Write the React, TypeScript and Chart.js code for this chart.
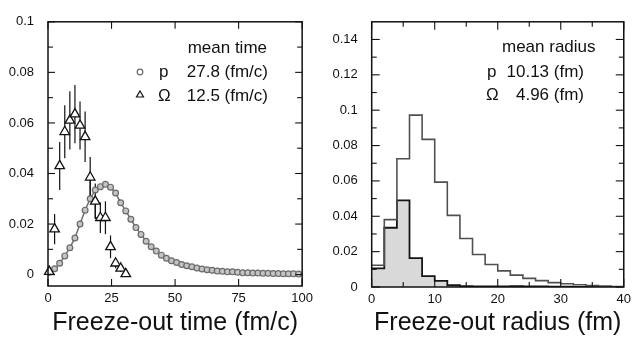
import React, { useEffect, useRef } from 'react';
import { Chart, registerables } from 'chart.js';

Chart.register(...registerables);

// ---------- Left panel: freeze-out time ----------
const protonTimeX = [
  0.6, 2.6, 4.6, 6.6, 8.6, 10.6, 12.6, 14.6, 16.6, 18.6,
  20.6, 22.6, 24.6, 26.6, 28.6, 30.6, 32.6, 34.6, 36.6, 38.6,
  40.6, 42.6, 44.6, 46.6, 48.6, 50.6, 52.6, 54.6, 56.6, 58.6,
  60.6, 62.6, 64.6, 66.6, 68.6, 70.6, 72.6, 74.6, 76.6, 78.6,
  80.6, 82.6, 84.6, 86.6, 88.6, 90.6, 92.6, 94.6, 96.6, 98.6,
];
const protonTime = [
  0.0010, 0.0023, 0.0045, 0.0074, 0.0106, 0.0145, 0.0200, 0.0255, 0.0300, 0.0335,
  0.0348, 0.0357, 0.0346, 0.0323, 0.0284, 0.0252, 0.0219, 0.0186, 0.0159, 0.0132,
  0.0110, 0.0093, 0.0077, 0.0065, 0.0055, 0.0048, 0.0040, 0.0035, 0.0031, 0.0026,
  0.0022, 0.0019, 0.0017, 0.0014, 0.0013, 0.0011, 0.0011, 0.0009, 0.0007, 0.0007,
  0.0006, 0.0006, 0.0005, 0.0005, 0.0004, 0.0004, 0.0003, 0.0003, 0.0003, 0.0002,
];
const omegaTimeX = [0.5, 2.6, 4.6, 6.6, 8.6, 10.6, 12.6, 14.6, 16.6, 18.6, 20.6, 22.6, 24.6, 26.6, 28.6, 30.6];
const omegaTime = [0.0012, 0.018, 0.043, 0.0565, 0.061, 0.0635, 0.059, 0.0545, 0.0385, 0.029, 0.0225, 0.0225, 0.011, 0.0045, 0.0025, 0.0003];
const omegaTimeErr = [0.0015, 0.006, 0.0095, 0.0105, 0.0115, 0.0115, 0.0095, 0.01, 0.008, 0.007, 0.006, 0.0065, 0.0045, 0.002, 0.0015, 0.0008];
const omegaTimeXErr = [1.3, 0, 0, 0, 0, 0, 0, 0, 0, 0, 0, 0, 0, 0, 0, 0];

const leftXTicks = [0, 25, 50, 75, 100];
const leftYTicks = [0, 0.02, 0.04, 0.06, 0.08, 0.1];
const leftYMinor = [0.01, 0.03, 0.05, 0.07, 0.09];

// ---------- Right panel: freeze-out radius ----------
const radiusEdges = [0, 2, 4, 6, 8, 10, 12, 14, 16, 18, 20, 22, 24, 26, 28, 30, 32, 34, 36, 38, 40];
const protonRadius = [
  0.0123, 0.0381, 0.0725, 0.0972, 0.0835, 0.0593, 0.0405, 0.0274, 0.0184, 0.0127,
  0.0091, 0.0067, 0.0049, 0.0036, 0.0025, 0.0018, 0.0013, 0.0008, 0.0005, 0.0003,
];
const omegaRadius = [
  0.0105, 0.0335, 0.049, 0.0163, 0.0062, 0.0035, 0.001, 0.0005, 0.0003, 0.0003,
  0.0004, 0.0005, 0.0004, 0.0003, 0.0002, 0.0002, 0.0001, 0.0001, 0.0, 0.0,
];

const rightXTicks = [0, 10, 20, 30, 40];
const rightXMinor = [5, 15, 25, 35];
const rightYTicks = [0, 0.02, 0.04, 0.06, 0.08, 0.1, 0.12, 0.14];
const rightYMinor = [0.01, 0.03, 0.05, 0.07, 0.09, 0.11, 0.13];

const FONT = "'Liberation Sans', Arial, Helvetica, sans-serif";
const INK = '#111';

const fmt = (v: number) => String(Number(Number(v).toFixed(3)));

function framePlugin(opts: {
  xMajor: number[]; xMinor: number[]; yMajor: number[]; yMinor: number[];
  xMajorLen: number; xMinorLen: number; yMajorLen: number; yMinorLen: number;
}) {
  return {
    id: 'frame',
    afterDatasetsDraw(chart: any) {
      const { ctx, chartArea: a } = chart;
      const xs = chart.scales.x;
      const ys = chart.scales.y;
      ctx.save();
      ctx.strokeStyle = INK;
      ctx.lineWidth = 1.1;
      const seg = (x1: number, y1: number, x2: number, y2: number) => {
        ctx.beginPath();
        ctx.moveTo(x1, y1);
        ctx.lineTo(x2, y2);
        ctx.stroke();
      };
      const yTick = (v: number, len: number) => {
        const p = ys.getPixelForValue(v);
        seg(a.left, p, a.left + len, p);
        seg(a.right, p, a.right - len, p);
      };
      const xTick = (v: number, len: number) => {
        const p = xs.getPixelForValue(v);
        seg(p, a.bottom, p, a.bottom - len);
        seg(p, a.top, p, a.top + len);
      };
      opts.yMajor.forEach((v) => yTick(v, opts.yMajorLen));
      opts.yMinor.forEach((v) => yTick(v, opts.yMinorLen));
      opts.xMajor.forEach((v) => xTick(v, opts.xMajorLen));
      opts.xMinor.forEach((v) => xTick(v, opts.xMinorLen));
      ctx.lineWidth = 1.5;
      ctx.strokeRect(a.left, a.top, a.right - a.left, a.bottom - a.top);
      ctx.restore();
    },
  };
}

const errorBarPlugin = {
  id: 'errbars',
  beforeDatasetsDraw(chart: any) {
    const { ctx } = chart;
    const xs = chart.scales.x;
    const ys = chart.scales.y;
    ctx.save();
    ctx.strokeStyle = INK;
    ctx.lineWidth = 1.2;
    omegaTime.forEach((v, i) => {
      const px = xs.getPixelForValue(omegaTimeX[i]);
      const e = omegaTimeErr[i];
      ctx.beginPath();
      ctx.moveTo(px, ys.getPixelForValue(v - e));
      ctx.lineTo(px, ys.getPixelForValue(v + e));
      ctx.stroke();
      const xe = omegaTimeXErr[i];
      if (xe > 0) {
        const py = ys.getPixelForValue(v);
        ctx.beginPath();
        ctx.moveTo(xs.getPixelForValue(omegaTimeX[i] - xe), py);
        ctx.lineTo(xs.getPixelForValue(omegaTimeX[i] + xe), py);
        ctx.stroke();
      }
    });
    ctx.restore();
  },
};

const leftLegendPlugin = {
  id: 'leftLegend',
  afterDraw(chart: any) {
    const { ctx } = chart;
    ctx.save();
    ctx.fillStyle = INK;
    ctx.font = `17px ${FONT}`;
    ctx.textBaseline = 'alphabetic';
    ctx.textAlign = 'right';
    ctx.fillText('mean time', 267, 53);
    ctx.fillText('27.8 (fm/c)', 268, 77);
    ctx.fillText('12.5 (fm/c)', 268, 101);
    ctx.textAlign = 'left';
    ctx.fillText('p', 159, 77);
    ctx.fillText('\u03A9', 158, 101);
    // symbols
    ctx.strokeStyle = '#666';
    ctx.lineWidth = 1.2;
    ctx.beginPath();
    ctx.arc(140, 72, 2.8, 0, Math.PI * 2);
    ctx.stroke();
    ctx.strokeStyle = INK;
    ctx.beginPath();
    ctx.moveTo(140, 91);
    ctx.lineTo(143.5, 97);
    ctx.lineTo(136.5, 97);
    ctx.closePath();
    ctx.stroke();
    ctx.restore();
  },
};

const rightLegendPlugin = {
  id: 'rightLegend',
  afterDraw(chart: any) {
    const { ctx } = chart;
    const o = 318;
    ctx.save();
    ctx.fillStyle = INK;
    ctx.font = `17px ${FONT}`;
    ctx.textBaseline = 'alphabetic';
    ctx.textAlign = 'left';
    ctx.fillText('mean radius', 502 - o, 52);
    ctx.fillText('p', 487 - o, 77);
    ctx.fillText('\u03A9', 486 - o, 100);
    ctx.textAlign = 'right';
    ctx.fillText('10.13 (fm)', 584 - o, 77);
    ctx.fillText('4.96 (fm)', 584 - o, 100);
    ctx.restore();
  },
};

const histPoints = (edges: number[], vals: number[]) =>
  vals.flatMap((v, i) => [
    { x: edges[i], y: v },
    { x: edges[i + 1], y: v },
  ]);

function axisCommon(extra: any) {
  return {
    type: 'linear',
    grid: { display: false, drawTicks: false },
    border: { display: false },
    ...extra,
  };
}

function leftConfig(): any {
  const omegaPts = omegaTimeX.map((x, i) => ({ x, y: omegaTime[i] }));
  const stepPts: { x: number; y: number }[] = [];
  for (let i = 8; i < 10; i++) {
    stepPts.push({ x: omegaTimeX[i], y: omegaTime[i] });
    stepPts.push({ x: omegaTimeX[i], y: omegaTime[i + 1] });
  }
  stepPts.push({ x: omegaTimeX[10], y: omegaTime[10] });
  return {
    type: 'scatter',
    data: {
      datasets: [
        {
          label: 'Omega',
          data: omegaPts,
          showLine: false,
          pointStyle: 'triangle',
          pointRadius: 5.5,
          pointBorderColor: INK,
          pointBackgroundColor: '#fff',
          pointBorderWidth: 1.3,
          clip: false,
        },
        {
          label: 'p',
          data: protonTimeX.map((x, i) => ({ x, y: protonTime[i] })),
          showLine: true,
          borderColor: '#6f6f6f',
          borderWidth: 1.5,
          pointStyle: 'circle',
          pointRadius: 2.9,
          pointBorderColor: '#6a6a6a',
          pointBackgroundColor: '#c4c4c4',
          pointBorderWidth: 1.2,
          clip: false,
        },
        {
          label: 'step',
          data: stepPts,
          showLine: true,
          borderColor: INK,
          borderWidth: 1.2,
          pointRadius: 0,
        },
      ],
    },
    options: {
      responsive: false,
      animation: false,
      devicePixelRatio: 1,
      layout: { padding: { left: 0, top: 15, right: 15, bottom: 0 } },
      plugins: { legend: { display: false }, tooltip: { enabled: false } },
      events: [],
      scales: {
        x: axisCommon({
          min: 0,
          max: 100,
          afterBuildTicks: (s: any) => { s.ticks = leftXTicks.map((v) => ({ value: v })); },
          afterFit: (s: any) => { s.height = 51; },
          ticks: { color: INK, font: { size: 13, family: FONT }, padding: 5, maxRotation: 0, autoSkip: false, callback: (v: any) => fmt(v) },
          title: { display: true, text: 'Freeze-out time (fm/c)', color: INK, font: { size: 25, family: FONT, lineHeight: 1 }, padding: { top: 0, bottom: 1 } },
        }),
        y: axisCommon({
          min: -0.0045,
          max: 0.1,
          afterBuildTicks: (s: any) => { s.ticks = leftYTicks.map((v) => ({ value: v })); },
          afterFit: (s: any) => { s.width = 48; },
          ticks: { color: INK, font: { size: 13, family: FONT }, padding: 14, autoSkip: false, callback: (v: any) => fmt(v) },
        }),
      },
    },
    plugins: [
      errorBarPlugin,
      framePlugin({ xMajor: leftXTicks, xMinor: [], yMajor: leftYTicks, yMinor: leftYMinor, xMajorLen: 7, xMinorLen: 4, yMajorLen: 7, yMinorLen: 5 }),
      leftLegendPlugin,
    ],
  };
}

function rightConfig(): any {
  return {
    type: 'scatter',
    data: {
      datasets: [
        {
          label: 'p',
          data: histPoints(radiusEdges, protonRadius),
          showLine: true,
          borderColor: '#505050',
          borderWidth: 1.6,
          pointRadius: 0,
          fill: false,
        },
        {
          label: 'Omega',
          data: histPoints(radiusEdges, omegaRadius),
          showLine: true,
          borderColor: '#151515',
          borderWidth: 1.8,
          backgroundColor: '#d9d9d9',
          pointRadius: 0,
          fill: 'origin',
        },
      ],
    },
    options: {
      responsive: false,
      animation: false,
      devicePixelRatio: 1,
      layout: { padding: { left: 0, top: 15, right: 9, bottom: 0 } },
      plugins: { legend: { display: false }, tooltip: { enabled: false } },
      events: [],
      scales: {
        x: axisCommon({
          min: 0,
          max: 40,
          afterBuildTicks: (s: any) => { s.ticks = rightXTicks.map((v) => ({ value: v })); },
          afterFit: (s: any) => { s.height = 50; },
          ticks: { color: INK, font: { size: 13, family: FONT }, padding: 5, maxRotation: 0, autoSkip: false, callback: (v: any) => fmt(v) },
          title: { display: true, text: 'Freeze-out radius (fm)', color: INK, font: { size: 25, family: FONT, lineHeight: 1 }, padding: { top: 0, bottom: 1 } },
        }),
        y: axisCommon({
          min: 0,
          max: 0.15,
          afterBuildTicks: (s: any) => { s.ticks = rightYTicks.map((v) => ({ value: v })); },
          afterFit: (s: any) => { s.width = 53.7; },
          ticks: { color: INK, font: { size: 13, family: FONT }, padding: 14, autoSkip: false, callback: (v: any) => fmt(v) },
        }),
      },
    },
    plugins: [
      framePlugin({ xMajor: rightXTicks, xMinor: rightXMinor, yMajor: rightYTicks, yMinor: rightYMinor, xMajorLen: 8, xMinorLen: 5, yMajorLen: 8, yMinorLen: 5 }),
      rightLegendPlugin,
    ],
  };
}

export default function App() {
  const leftRef = useRef<HTMLCanvasElement>(null);
  const rightRef = useRef<HTMLCanvasElement>(null);
  useEffect(() => {
    const c1 = new Chart(leftRef.current as HTMLCanvasElement, leftConfig());
    const c2 = new Chart(rightRef.current as HTMLCanvasElement, rightConfig());
    return () => {
      c1.destroy();
      c2.destroy();
    };
  }, []);
  return (
    <div style={{ position: 'absolute', left: 0, top: 0, width: 636, height: 337, background: '#fff', overflow: 'hidden' }}>
      <canvas ref={leftRef} width={318} height={337} style={{ position: 'absolute', left: 0, top: 0, width: 318, height: 337 }} />
      <canvas ref={rightRef} width={318} height={337} style={{ position: 'absolute', left: 318, top: 0, width: 318, height: 337 }} />
    </div>
  );
}
